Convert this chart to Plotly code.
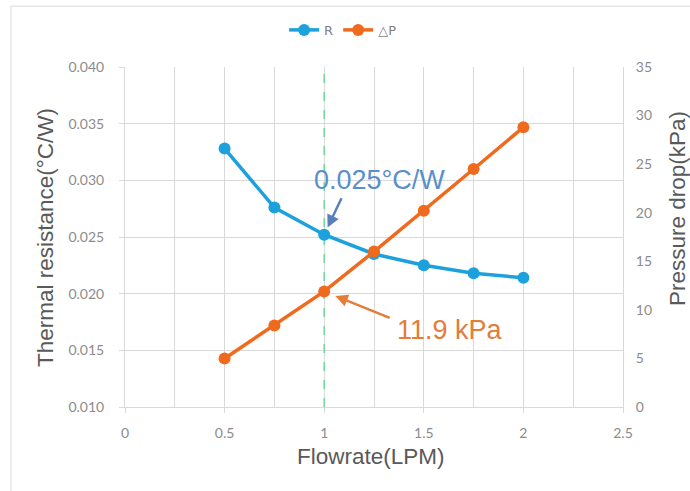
import plotly.graph_objects as go

# ---- data ----
flowrate = [0.5, 0.75, 1.0, 1.25, 1.5, 1.75, 2.0]
thermal_resistance = [0.0328, 0.0276, 0.0252, 0.0235, 0.0225, 0.0218, 0.0214]
pressure_drop = [5.0, 8.4, 11.9, 16.0, 20.2, 24.5, 28.8]
highlight_index = 2
x_ticks = [0, 0.5, 1, 1.5, 2, 2.5]
y_left_ticks = [0.010, 0.015, 0.020, 0.025, 0.030, 0.035, 0.040]
y_right_ticks = [0, 5, 10, 15, 20, 25, 30, 35]

BLUE = "#1CA1DD"
ORANGE = "#F06A1E"
GRID = "#D9D9D9"
TICK_FONT = dict(family="Lato, Liberation Sans, sans-serif", size=14, color="#8C8C8C")
TITLE_FONT = dict(family="Liberation Sans, Arial, sans-serif", size=22.5, color="#595959")

hx = flowrate[highlight_index]
hr = thermal_resistance[highlight_index]
hp = pressure_drop[highlight_index]

fig = go.Figure()

# highlight line at the selected flowrate (drawn as a trace so it sits above the grid)
fig.add_trace(go.Scatter(
    x=[hx, hx], y=[y_left_ticks[0], y_left_ticks[-1]], mode="lines",
    line=dict(color="#72D69A", width=1.5, dash="dash"), showlegend=False,
    hoverinfo="skip", yaxis="y"))

fig.add_trace(go.Scatter(
    x=flowrate, y=thermal_resistance, name="R", mode="lines+markers",
    line=dict(color=BLUE, width=3.5), marker=dict(color=BLUE, size=12),
    yaxis="y"))
fig.add_trace(go.Scatter(
    x=flowrate, y=pressure_drop, name="\u25b3P", mode="lines+markers",
    line=dict(color=ORANGE, width=3.5), marker=dict(color=ORANGE, size=12),
    yaxis="y2"))

fig.update_layout(
    width=690, height=491,
    margin=dict(l=125, r=67, t=67, b=84, autoexpand=False),
    paper_bgcolor="white", plot_bgcolor="white",
    showlegend=True,
    legend=dict(orientation="h", x=0.438, xanchor="center", y=1.109, yanchor="middle",
                font=dict(family="DejaVu Sans, Liberation Sans, sans-serif", size=13, color="#7F7F7F"),
                itemwidth=30, bgcolor="rgba(0,0,0,0)"),
    xaxis=dict(range=[0, 2.5], tickvals=x_ticks, ticktext=[f"{v:g}" for v in x_ticks],
               showgrid=True, gridcolor=GRID, gridwidth=1,
               minor=dict(dtick=0.25, showgrid=True, gridcolor=GRID, gridwidth=1),
               showline=True, linecolor=GRID, linewidth=1,
               ticks="outside", ticklen=5, tickcolor=GRID,
               tickfont=TICK_FONT, ticklabelstandoff=8, zeroline=False),
    yaxis=dict(range=[0.010, 0.040], tickvals=y_left_ticks,
               ticktext=[f"{v:.3f}" for v in y_left_ticks],
               showgrid=True, gridcolor=GRID, gridwidth=1,
               showline=True, linecolor=GRID, linewidth=1,
               ticks="outside", ticklen=5, tickcolor=GRID,
               tickfont=TICK_FONT, ticklabelstandoff=12, zeroline=False),
    yaxis2=dict(range=[0, 35], tickvals=y_right_ticks, overlaying="y", side="right",
                showgrid=False, showline=True, linecolor=GRID, linewidth=1,
                ticks="", tickfont=TICK_FONT, ticklabelstandoff=9, zeroline=False),
)

# axis titles
fig.add_annotation(text="Thermal resistance(\u00b0C/W)", xref="paper", yref="paper",
                   x=-0.1606, y=0.497, textangle=-90, showarrow=False,
                   xanchor="center", yanchor="middle", font=TITLE_FONT)
fig.add_annotation(text="Pressure drop(kPa)", xref="paper", yref="paper",
                   x=1.1084, y=0.585, textangle=-90, showarrow=False,
                   xanchor="center", yanchor="middle", font=TITLE_FONT)
fig.add_annotation(text="Flowrate(LPM)", xref="paper", yref="paper",
                   x=0.494, y=-0.147, showarrow=False,
                   xanchor="center", yanchor="middle", font=TITLE_FONT)

# callouts
fig.add_annotation(text=f"{hr:.3f}\u00b0C/W", xref="paper", yref="paper",
                   x=0.512, y=0.668, showarrow=False,
                   xanchor="center", yanchor="middle",
                   font=dict(family="Liberation Sans, Arial, sans-serif", size=27, color="#5A8FCB"))
fig.add_annotation(text="", x=hx, y=hr, xref="x", yref="y",
                   ax=18, ay=-38, showarrow=True, arrowhead=2, arrowsize=1,
                   arrowwidth=2.5, arrowcolor="#5A7FBF", standoff=8)
fig.add_annotation(text=f"{hp:g} kPa", xref="paper", yref="paper",
                   x=0.653, y=0.2265, showarrow=False,
                   xanchor="center", yanchor="middle",
                   font=dict(family="Liberation Sans, Arial, sans-serif", size=27, color="#E57C3A"))
fig.add_annotation(text="", x=hx, y=hp, xref="x", yref="y2",
                   ax=67, ay=27, showarrow=True, arrowhead=2, arrowsize=1,
                   arrowwidth=2.5, arrowcolor="#E57C3A", standoff=12)

# outer frame
fig.add_shape(type="rect", xref="paper", yref="paper", x0=-0.2289, x1=1.2, y0=-0.4, y1=1.179,
              line=dict(color="#D9D9D9", width=1), fillcolor="rgba(0,0,0,0)", layer="below")

fig.write_html("out.html", config={"displayModeBar": False},
               post_script="document.body.style.margin='0';document.body.style.overflow='hidden';")
